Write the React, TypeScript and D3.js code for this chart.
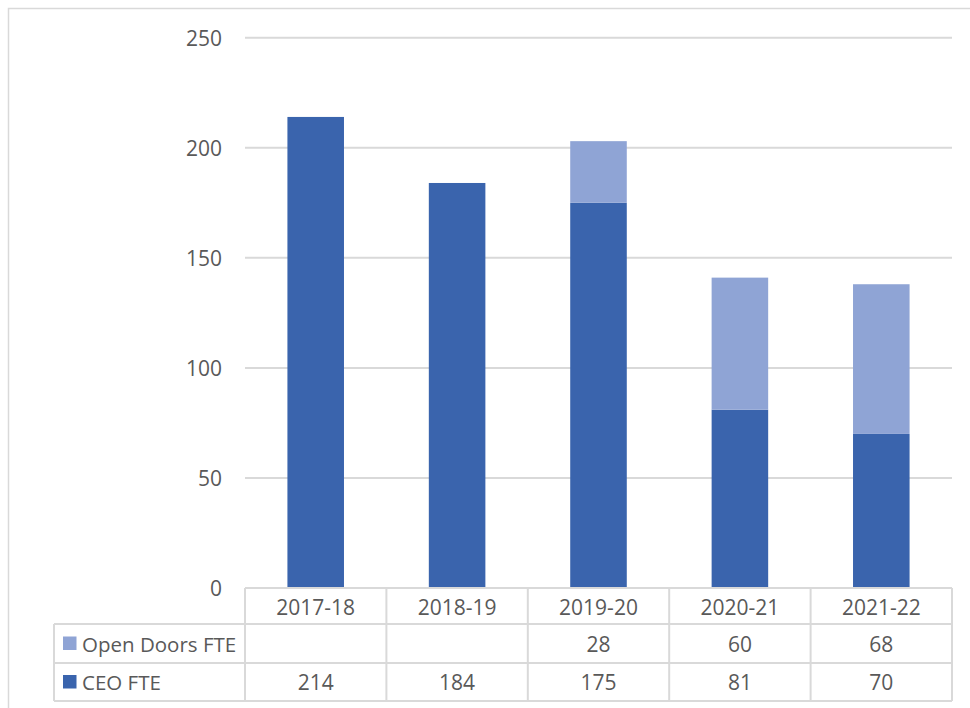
import React from "react";
import * as d3 from "d3";

// data
const categories = ["2017-18", "2018-19", "2019-20", "2020-21", "2021-22"];
const ceoFte = [214, 184, 175, 81, 70];
const openDoorsFte: (number | null)[] = [null, null, 28, 60, 68];
const yTicks = [0, 50, 100, 150, 200, 250];

const seriesNames = ["Open Doors FTE", "CEO FTE"];

const DARK = "#3A64AD";
const LIGHT = "#8FA4D5";
const GRID = "#D9D9D9";
const TEXT = "#595959";
const FONT = "'Open Sans', 'Noto Sans', sans-serif";

const App: React.FC = () => {
  const width = 970;
  const height = 708;
  const plot = { left: 245, right: 952, top: 37.7, bottom: 588 };
  const rows = [588, 624, 663, 701];
  const legendLeft = 54;

  const x = d3
    .scaleBand()
    .domain(categories)
    .range([plot.left, plot.right])
    .paddingInner(0.6)
    .paddingOuter(0.3);

  // columns of the data table share the band, without padding
  const col = d3.scaleBand().domain(categories).range([plot.left, plot.right]);

  const y = d3.scaleLinear().domain([0, 250]).range([plot.bottom, plot.top]);

  const stackData = categories.map((c, i) => ({
    cat: c,
    ceo: ceoFte[i],
    open: openDoorsFte[i] ?? 0,
  }));
  const stacked = d3.stack<any>().keys(["ceo", "open"])(stackData);
  const colors: Record<string, string> = { ceo: DARK, open: LIGHT };

  const tableRows = [
    { name: seriesNames[0], color: LIGHT, values: openDoorsFte },
    { name: seriesNames[1], color: DARK, values: ceoFte },
  ];

  return (
    <svg
      width={width}
      height={height}
      style={{ position: "absolute", left: 0, top: 0, background: "#fff" }}
      fontFamily={FONT}
    >
      <rect x={0} y={0} width={width} height={height} fill="#fff" />
      {/* outer chart border */}
      <rect
        x={8.5}
        y={8.5}
        width={width + 20}
        height={height + 20}
        fill="none"
        stroke={GRID}
        strokeWidth={1.5}
      />

      {/* gridlines and y tick labels */}
      {yTicks.map((t) => (
        <g key={t}>
          {t > 0 && (
            <line
              x1={plot.left}
              x2={plot.right}
              y1={y(t)}
              y2={y(t)}
              stroke={GRID}
              strokeWidth={2}
            />
          )}
          <text
            x={222}
            y={y(t)}
            textAnchor="end"
            dominantBaseline="central"
            fontSize={21}
            fill={TEXT}
          >
            {t}
          </text>
        </g>
      ))}

      {/* stacked bars */}
      {stacked.map((layer) =>
        layer.map((d, i) =>
          d[1] - d[0] > 0 ? (
            <rect
              key={layer.key + i}
              x={x(categories[i])}
              width={x.bandwidth()}
              y={y(d[1])}
              height={y(d[0]) - y(d[1])}
              fill={colors[layer.key]}
            />
          ) : null
        )
      )}

      {/* data table grid */}
      <line x1={plot.left} x2={plot.right} y1={rows[0]} y2={rows[0]} stroke={GRID} strokeWidth={2} />
      {rows.slice(1).map((r) => (
        <line key={r} x1={legendLeft} x2={plot.right} y1={r} y2={r} stroke={GRID} strokeWidth={2} />
      ))}
      <line x1={legendLeft} x2={legendLeft} y1={rows[1]} y2={rows[3]} stroke={GRID} strokeWidth={2} />
      {categories.map((c) => (
        <line
          key={c}
          x1={col(c)}
          x2={col(c)}
          y1={rows[0]}
          y2={rows[3]}
          stroke={GRID}
          strokeWidth={2}
        />
      ))}
      <line x1={plot.right} x2={plot.right} y1={rows[0]} y2={rows[3]} stroke={GRID} strokeWidth={2} />

      {/* category labels */}
      {categories.map((c) => (
        <text
          key={c}
          x={(col(c) ?? 0) + col.bandwidth() / 2}
          y={(rows[0] + rows[1]) / 2 + 1}
          textAnchor="middle"
          dominantBaseline="central"
          fontSize={21}
          fill={TEXT}
        >
          {c}
        </text>
      ))}

      {/* series rows */}
      {tableRows.map((row, ri) => {
        const cy = (rows[ri + 1] + rows[ri + 2]) / 2;
        return (
          <g key={row.name}>
            <rect x={63} y={cy - 7} width={13.5} height={13.5} fill={row.color} />
            <text x={82} y={cy} dominantBaseline="central" fontSize={20.5} fill={TEXT}>
              {row.name}
            </text>
            {row.values.map((v, i) =>
              v == null ? null : (
                <text
                  key={i}
                  x={(col(categories[i]) ?? 0) + col.bandwidth() / 2}
                  y={cy}
                  textAnchor="middle"
                  dominantBaseline="central"
                  fontSize={21}
                  fill={TEXT}
                >
                  {v}
                </text>
              )
            )}
          </g>
        );
      })}
    </svg>
  );
};

export default App;
